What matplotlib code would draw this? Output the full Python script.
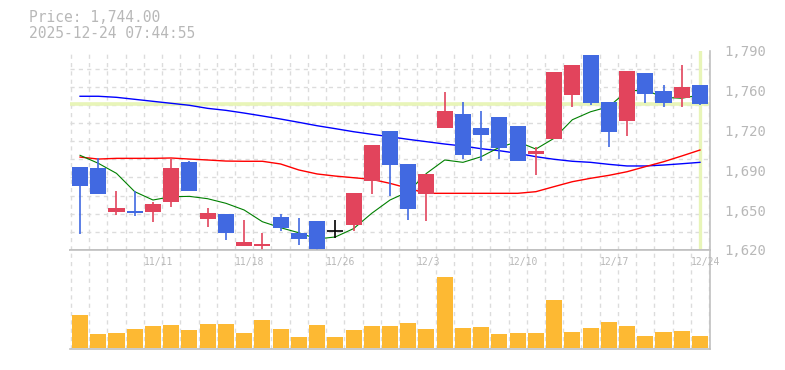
import numpy as np
import matplotlib.pyplot as plt
from matplotlib.transforms import blended_transform_factory

plt.rcParams['font.family'] = ['DejaVu Sans Mono']
plt.rcParams['lines.scale_dashes'] = False

# daily candles, 2025-11-05 .. 2025-12-24
opens = [1690.7, 1689.9, 1652.4, 1653.2, 1652.4, 1660.9, 1695.0, 1646.4, 1650.7, 1623.4,
         1623.4, 1648.1, 1634.5, 1644.7, 1636.2, 1641.0, 1679.0, 1721.4, 1693.3, 1667.7,
         1724.0, 1735.9, 1724.0, 1733.3, 1725.6, 1702.0, 1714.8, 1752.3, 1786.1, 1746.1,
         1730.2, 1770.8, 1755.5, 1749.8, 1760.6]
highs = [1690.7, 1698.4, 1670.0, 1670.0, 1660.9, 1697.3, 1696.0, 1655.8, 1650.7, 1645.6,
         1634.5, 1650.7, 1647.3, 1644.7, 1645.6, 1668.6, 1709.5, 1721.4, 1693.3, 1684.8,
         1754.6, 1746.1, 1738.4, 1733.3, 1725.6, 1708.0, 1771.7, 1777.6, 1786.1, 1746.1,
         1772.5, 1770.8, 1760.6, 1777.6, 1760.6]
lows = [1633.9, 1668.0, 1650.1, 1649.2, 1643.9, 1656.6, 1670.3, 1639.6, 1628.5, 1623.4,
        1619.0, 1636.2, 1624.3, 1619.0, 1630.2, 1636.4, 1667.7, 1666.0, 1645.6, 1644.7,
        1724.0, 1697.8, 1696.1, 1697.8, 1696.1, 1684.2, 1714.8, 1742.1, 1743.5, 1708.0,
        1717.1, 1745.5, 1742.1, 1742.1, 1743.8]
closes = [1674.8, 1668.0, 1655.8, 1651.5, 1659.2, 1689.9, 1670.3, 1651.5, 1634.7, 1626.8,
          1625.1, 1638.7, 1629.4, 1621.0, 1636.2, 1668.6, 1709.5, 1692.4, 1654.9, 1684.8,
          1738.4, 1701.2, 1718.2, 1707.2, 1696.1, 1704.3, 1771.7, 1777.6, 1745.5, 1720.8,
          1772.5, 1753.2, 1745.5, 1758.9, 1744.0]
volumes = [330, 140, 150, 190, 220, 230, 180, 240, 240, 150,
           280, 190, 110, 230, 110, 180, 220, 220, 250, 190,
           713, 200, 210, 140, 150, 150, 480, 160, 200, 260,
           220, 120, 160, 170, 120]

ma_short = [1700.7, 1693.9, 1685.3, 1669.7, 1662.6, 1665.4, 1665.7, 1663.7, 1659.8, 1654.1,
            1644.1, 1639.0, 1634.7, 1629.4, 1631.1, 1638.2, 1651.3, 1662.6, 1669.7, 1685.3,
            1696.7, 1694.7, 1699.5, 1707.5, 1712.3, 1706.0, 1715.2, 1731.0, 1737.8, 1742.1,
            1755.5, 1756.3, 1750.1, 1749.3, 1752.1]
ma_mid = [1699.2, 1697.5, 1698.1, 1698.1, 1698.1, 1698.4, 1697.5, 1696.7, 1695.8, 1695.6,
          1695.6, 1693.3, 1688.2, 1684.8, 1683.0, 1681.6, 1680.2, 1676.8, 1672.6, 1668.3,
          1668.3, 1668.3, 1668.3, 1668.3, 1668.3, 1669.7, 1674.0, 1678.2, 1681.1, 1683.6,
          1686.7, 1691.0, 1695.2, 1700.1, 1705.2]
ma_long = [1751.0, 1751.0, 1750.1, 1748.4, 1746.7, 1745.0, 1743.3, 1740.7, 1739.0, 1736.7,
           1734.2, 1731.6, 1728.8, 1725.9, 1723.4, 1720.8, 1718.6, 1716.5, 1714.3, 1712.3,
           1710.3, 1708.6, 1706.3, 1704.6, 1702.4, 1699.5, 1697.3, 1695.6, 1694.7, 1693.0,
           1691.6, 1691.6, 1692.4, 1693.5, 1694.7]

date_labels = {4: "11/11", 9: "11/18", 14: "11/26", 19: "12/3", 24: "12/10", 29: "12/17", 34: "12/24"}
y_tick_values = [1620, 1654, 1688, 1722, 1756, 1790]
y_tick_labels = ["1,620", "1,650", "1,690", "1,720", "1,760", "1,790"]
last_price = 1744.0
title_lines = ["Price: 1,744.00", "2025-12-24 07:44:55"]

UP = "#e2445c"
DOWN = "#4169e1"
GRID = "#dcdcdc"
FRAME = "#c0c0c0"
TEXT = "#b8b8b8"
HILITE = "#e8f5b8"

W, H = 785, 370
fig = plt.figure(figsize=(W / 100, H / 100), dpi=100)
ax = fig.add_axes([70 / W, 1 - 250 / H, 640 / W, 199.5 / H])
vax = fig.add_axes([70 / W, 1 - 349.3 / H, 640 / W, 99.3 / H])

n = len(closes)
x = np.arange(n)
xlim = (-0.55, n - 0.45)
body_w = 0.88

for axis in (ax, vax):
    axis.set_xlim(xlim)
    axis.set_xticks([])
    axis.set_xticks(np.arange(-0.5, n, 1), minor=True)
    axis.tick_params(which="both", length=0, labelbottom=False)
    axis.grid(which="minor", axis="x", color=GRID, lw=1, ls=(0, (3, 3)))
    axis.set_axisbelow(True)
    axis.spines["left"].set_visible(False)
    for s in ("top", "right", "bottom"):
        axis.spines[s].set_color(FRAME)
        axis.spines[s].set_linewidth(1.2)

# price panel
ax.set_ylim(1620, 1790)
ax.spines["top"].set_visible(False)
ax.set_yticks(np.linspace(1620, 1790, 12), minor=True)
ax.grid(which="minor", axis="y", color=GRID, lw=1, ls=(0, (3, 3)))
ax.yaxis.tick_right()
ax.set_yticks(y_tick_values)
ax.set_yticklabels(y_tick_labels)
ax.tick_params(axis="y", which="both", length=0, pad=10, labelsize=10, labelcolor=TEXT)

ax.axhline(last_price, color=HILITE, lw=2.6, zorder=1)
ax.axvline(x[-1], color=HILITE, lw=2.4, zorder=1)

ax.plot(x, ma_long, color="#0000ff", lw=1.0, zorder=2)
ax.plot(x, ma_mid, color="#ff0000", lw=1.0, zorder=2)
ax.plot(x, ma_short, color="#008000", lw=0.8, zorder=2)

for i in range(n):
    o, h, l, c = opens[i], highs[i], lows[i], closes[i]
    if c > o:
        col = UP
    elif c < o:
        col = DOWN
    else:
        col = "black"
    ax.vlines(i, l, h, color=col, lw=1.2, zorder=3)
    if c == o:
        ax.hlines(o, i - body_w / 2, i + body_w / 2, color=col, lw=1.2, zorder=3)
    else:
        ax.bar(i, abs(c - o), bottom=min(o, c), width=body_w, color=col, zorder=4)

# volume panel
vax.set_ylim(0, 993)
vax.set_yticks([])
vax.bar(x, volumes, width=body_w, bottom=13, color="#fdb933", zorder=2)
trans = blended_transform_factory(vax.transData, vax.transAxes)
for i, lab in date_labels.items():
    vax.text(i - 0.5, 0.875, lab, transform=trans, ha="left", va="center",
             fontsize=7, color=TEXT)

fig.text(29 / W, 1 - 17.5 / H, title_lines[0], fontsize=10.5, color=TEXT, va="center")
fig.text(29 / W, 1 - 33.5 / H, title_lines[1], fontsize=10.5, color=TEXT, va="center")

fig.savefig("out.png", dpi=100)
